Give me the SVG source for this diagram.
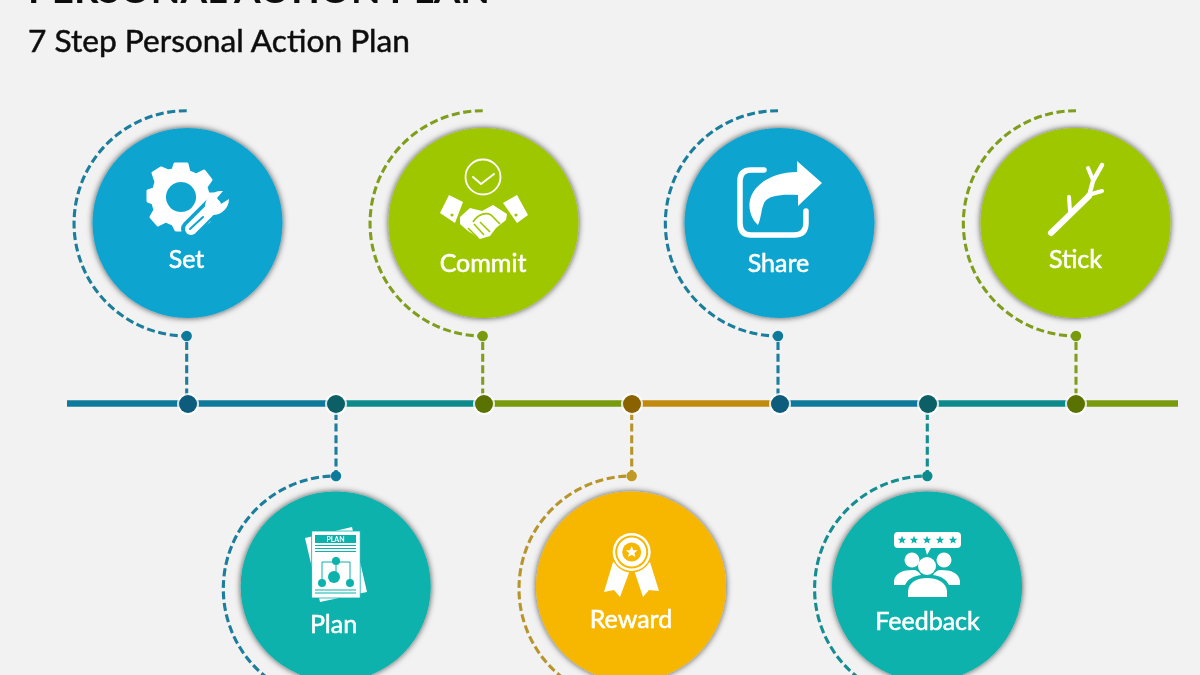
<svg xmlns="http://www.w3.org/2000/svg" width="1200" height="675" viewBox="0 0 1200 675">
<style>
.lbl{font-family:"Lato","Open Sans","Liberation Sans",sans-serif;font-size:25px;font-weight:400;fill:#fff;stroke:#fff;stroke-width:.55;text-anchor:middle}
.ttl{font-family:"Lato","Open Sans","Liberation Sans",sans-serif;fill:#111}
.seg{fill:none;stroke-width:6.5}
.dash{fill:none;stroke-width:3.1;stroke-dasharray:8 3.6}
.halo{fill:#fff;fill-opacity:.8}
.ink{fill:#fff}
.line{fill:none;stroke:#fff;stroke-linecap:round;stroke-linejoin:round}
</style>
<defs>
<filter id="soft" x="-5%" y="-5%" width="110%" height="110%"><feGaussianBlur stdDeviation="0.5"/></filter>
<filter id="sh" x="-10%" y="-10%" width="120%" height="120%"><feDropShadow dx="0" dy="0" stdDeviation="3" flood-color="#000" flood-opacity=".7"/></filter>
<path id="star" d="M0-4.2 1.2-1.3 4.2-1.2 1.9.7 2.6 3.6 0 2 -2.6 3.6 -1.9.7 -4.2-1.2 -1.2-1.3Z"/>
</defs>
<rect width="1200" height="675" fill="#f2f2f2"/>
<g filter="url(#soft)">
<text class="ttl" x="28" y="3" font-size="37" font-weight="700" textLength="462" lengthAdjust="spacingAndGlyphs">PERSONAL ACTION PLAN</text>
<text class="ttl" x="28" y="52" font-size="30" stroke="#111" stroke-width=".5" textLength="382" lengthAdjust="spacingAndGlyphs">7 Step Personal Action Plan</text>

<g id="connectors">
<path class="seg" stroke="#0f7a9c" d="M67 403.500H336"/>
<path class="seg" stroke="#0c8a8c" d="M336 403.500H484"/>
<path class="seg" stroke="#7a9a0c" d="M484 403.500H632"/>
<path class="seg" stroke="#c08a10" d="M632 403.500H780"/>
<path class="seg" stroke="#0f7a9c" d="M780 403.500H928"/>
<path class="seg" stroke="#0c8a8c" d="M928 403.500H1076"/>
<path class="seg" stroke="#7a9a0c" d="M1076 403.500H1178"/>
<path class="dash" stroke="#1a7d9c" d="M186.700 110.700A112.650 112.650 0 0 0 186.700 336V396"/>
<path class="dash" stroke="#7f9e1e" d="M482.700 110.700A112.650 112.650 0 0 0 482.700 336V396"/>
<path class="dash" stroke="#1a7d9c" d="M778 110.700A112.650 112.650 0 0 0 778 336V396"/>
<path class="dash" stroke="#7f9e1e" d="M1076 110.700A112.650 112.650 0 0 0 1076 336V396"/>
<path class="dash" stroke="#1a7d9c" d="M336 412V476A112.700 112.700 0 0 0 336 701.400"/>
<path class="dash" stroke="#b8952c" d="M631.700 412V476A112.700 112.700 0 0 0 631.700 701.400"/>
<path class="dash" stroke="#138d90" d="M927.300 412V476A112.700 112.700 0 0 0 927.300 701.400"/>
<g fill="#0f7a9c"><circle cx="186.700" cy="336" r="5.200"/><circle cx="778" cy="336" r="5.200"/><circle cx="336" cy="476" r="5.200"/></g>
<g fill="#7a9a0c"><circle cx="482.700" cy="336" r="5.200"/><circle cx="1076" cy="336" r="5.200"/></g>
<circle cx="631.700" cy="476" r="5.200" fill="#c09a20"/>
<circle cx="927.300" cy="476" r="5.200" fill="#0c8a8c"/>
<g class="halo"><circle cx="188" cy="404" r="11"/><circle cx="336" cy="404" r="11"/><circle cx="484" cy="404" r="11"/><circle cx="632" cy="404" r="11"/><circle cx="780" cy="404" r="11"/><circle cx="928" cy="404" r="11"/><circle cx="1076" cy="404" r="11"/></g>
<circle cx="188" cy="404" r="9" fill="#0b5b7c"/><circle cx="336" cy="404" r="9" fill="#0a5f66"/><circle cx="484" cy="404" r="9" fill="#5a7205"/><circle cx="632" cy="404" r="9" fill="#8a6302"/><circle cx="780" cy="404" r="9" fill="#0b5b7c"/><circle cx="928" cy="404" r="9" fill="#0a5f66"/><circle cx="1076" cy="404" r="9" fill="#5a7205"/>
</g>

<g id="node-set">
<circle cx="187.500" cy="223" r="95" fill="#0ca5d0" filter="url(#sh)"/>
<g class="ink" transform="translate(181 197)" stroke="#fff" stroke-width="3" stroke-linejoin="round">
<path fill-rule="evenodd" d="M-6-33H6L8-25 15-22 23-26 30-17 25-10 27-3H33V7L27 9 25 16 28 24 20 30 13 26 7 28 5 33H-5L-8 27-15 24-23 28-30 20-26 13-28 6-33 4V-6L-27-8-25-15-28-24-20-29-13-26-8-27ZM0-16.500A16.500 16.500 0 1 0 .01-16.500Z"/>
</g>
<path d="M190 229 219 200" fill="none" stroke="#0ca5d0" stroke-width="18" stroke-linecap="round"/>
<path class="line" stroke-width="12" d="M191 229 215 205"/>
<path class="ink" d="M205 207C205 197 213 190 223 191L217 198 221 204 229 199C229 209 220 216 211 215Z"/>
<path d="M190 229 203 217" stroke="#0ca5d0" stroke-width="2" fill="none" stroke-linecap="round"/>
<text class="lbl" x="186.500" y="268">Set</text>
</g>

<g id="node-commit">
<circle cx="483.500" cy="223" r="95" fill="#9fc703" filter="url(#sh)"/>
<circle class="line" cx="483" cy="177" r="17.500" stroke-width="1.800"/>
<path class="line" stroke-width="2" d="M473 177 481 184 494 174"/>
<path class="ink" d="M440 213 449 195 463 202 455 223Z"/>
<path class="ink" d="M503 203 517 195 528 215 517 223Z"/>
<circle cx="452" cy="215" r="1.600" fill="#9fc703"/><circle cx="516" cy="215" r="1.600" fill="#9fc703"/>
<path class="ink" d="M460 217 470 208 482 211 493 205 507 214 506 220 496 228 490 236 480 239 468 231 460 224Z"/>
<path d="M473 222C478 214 486 212 491 215L500 224M468 228 478 238M474 224 484 235M480 222 490 232" stroke="#9fc703" stroke-width="1.600" fill="none"/>
<text class="lbl" x="483" y="272">Commit</text>
</g>

<g id="node-share">
<circle cx="779.500" cy="223" r="95" fill="#0ca5d0" filter="url(#sh)"/>
<path class="line" stroke-width="5.500" d="M764 170H751Q740 170 740 181V223Q740 235 751 235H794Q806 235 806 223V211"/>
<path class="ink" d="M797 161 822 183 798 206V195C783 194 768 195 764 203 761 210 761 219 758 225 751 219 748 208 750 200 754 182 776 172 797 172Z"/>
<text class="lbl" x="778.500" y="272">Share</text>
</g>

<g id="node-stick">
<circle cx="1075.500" cy="223" r="95" fill="#9fc703" filter="url(#sh)"/>
<path class="line" stroke-width="6" d="M1051 233 1089 196"/>
<path class="line" stroke-width="4.500" d="M1089 196 1093 181 1102 165"/>
<path class="line" stroke-width="4" d="M1093 180 1088 168M1088 195 1102 191M1070 211 1069 197"/>
<text class="lbl" x="1075.500" y="268">Stick</text>
</g>

<g id="node-plan">
<circle cx="335.700" cy="586.500" r="95" fill="#08b2ad" filter="url(#sh)"/>
<path class="ink" d="M305 538 352 527 367 592 320 602Z"/>
<rect x="311.700" y="531" width="48.500" height="67" fill="#fff" stroke="#08b2ad" stroke-width=".8"/>
<rect x="315" y="535" width="41" height="8" fill="#08b2ad"/>
<text x="335.500" y="542" font-family="Lato,'Liberation Sans',sans-serif" font-size="7" font-weight="700" fill="#fff" text-anchor="middle">PLAN</text>
<g fill="none" stroke="#08b2ad" stroke-width="1"><path d="M315 545.500H356M315 548.500H356M315 551.500H356M315 590H356M315 593H356"/><path d="M322 582V562H350V582M336 562V575"/></g>
<g fill="#08b2ad"><circle cx="336" cy="561" r="4"/><circle cx="334" cy="577" r="6"/><circle cx="322" cy="583" r="4"/><circle cx="350" cy="583" r="4"/></g>
<text class="lbl" x="333.500" y="633">Plan</text>
</g>

<g id="node-reward">
<circle cx="631" cy="586.500" r="95" fill="#f7b703" filter="url(#sh)"/>
<path class="ink" d="M613 562 630 570 620 597 614 590 604 592Z"/>
<path class="ink" d="M650 562 634 570 643 597 649 590 659 591Z"/>
<circle cx="631.700" cy="552" r="20.500" fill="#f7b703"/>
<circle cx="631.700" cy="552" r="19" fill="#fff"/>
<circle cx="631.700" cy="552" r="16.500" fill="#f7b703"/>
<circle cx="631.700" cy="552" r="14.500" fill="#fff"/>
<circle cx="631.700" cy="552" r="9.500" fill="#f7b703"/>
<use href="#star" transform="translate(631.700 552) scale(1.400)" fill="#fff"/>
<text class="lbl" x="631" y="628">Reward</text>
</g>

<g id="node-feedback">
<circle cx="927" cy="586.500" r="95" fill="#08b2ad" filter="url(#sh)"/>
<path class="ink" d="M898 532H957Q961 532 961 536V544Q961 548 957 548H931L927 555 925 548H898Q894 548 894 544V536Q894 532 898 532Z"/>
<g fill="#08b2ad"><use href="#star" x="902" y="540"/><use href="#star" x="914" y="540"/><use href="#star" x="927" y="540"/><use href="#star" x="940" y="540"/><use href="#star" x="953" y="540"/></g>
<circle class="ink" cx="912" cy="560" r="7.500"/><circle class="ink" cx="944" cy="560" r="7.500"/>
<path class="ink" d="M894 585V581C895 573 903 570 913 570 917 570 919 572 921 575 913 576 908 579 905 585Z"/>
<path class="ink" d="M960 585V581C959 573 951 570 941 570 937 570 935 572 933 575 941 576 946 579 949 585Z"/>
<circle class="ink" cx="927" cy="566" r="9"/>
<path class="ink" d="M908 597V591C909 582 917 578 927 578 937 578 946 582 947 591V597Z"/>
<text class="lbl" x="927.500" y="630">Feedback</text>
</g>
</g>
</svg>
